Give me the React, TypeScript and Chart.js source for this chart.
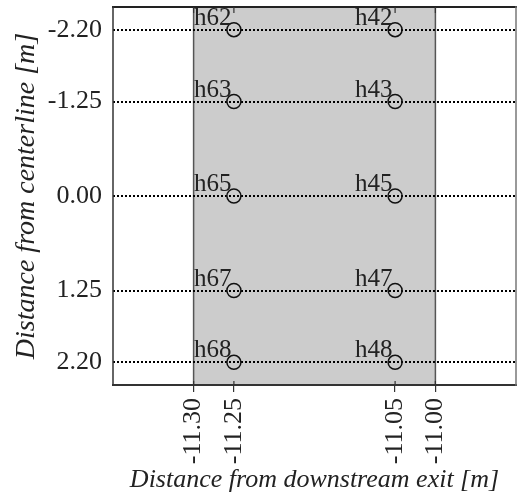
import React, { useEffect, useRef } from 'react';
import { Chart, registerables } from 'chart.js';

Chart.register(...registerables);

// ---- data ----
const columnX = [-11.25, -11.05];
const rowY = [-2.2, -1.25, 0.0, 1.25, 2.2];
const labelsNearCol = ['h62', 'h63', 'h65', 'h67', 'h68'];
const labelsFarCol = ['h42', 'h43', 'h45', 'h47', 'h48'];
const xTickValues = [-11.3, -11.25, -11.05, -11.0];
const yTickValues = [-2.2, -1.25, 0.0, 1.25, 2.2];
const regionX = [-11.3, -11.0];
const xRange = [-11.4, -10.9];
const yRange = [-2.5, 2.5];
const xTitle = 'Distance from downstream exit [m]';
const yTitle = 'Distance from centerline [m]';

const FONT = "'Liberation Serif', 'Times New Roman', serif";
const TEXT = '#222222';

const regionPlugin = {
  id: 'regionBox',
  beforeDraw(chart: any) {
    const { ctx, chartArea, scales } = chart;
    const x = scales.x;
    const x0 = x.getPixelForValue(regionX[0]);
    const x1 = x.getPixelForValue(regionX[1]);
    ctx.save();
    ctx.fillStyle = '#cccccc';
    ctx.fillRect(x0, chartArea.top, x1 - x0, chartArea.bottom - chartArea.top);
    ctx.strokeStyle = '#555555';
    ctx.lineWidth = 1.5;
    ctx.beginPath();
    ctx.moveTo(x0, chartArea.top);
    ctx.lineTo(x0, chartArea.bottom);
    ctx.moveTo(x1, chartArea.top);
    ctx.lineTo(x1, chartArea.bottom);
    ctx.stroke();
    ctx.restore();
  },
};

const tagPlugin = {
  id: 'pointTags',
  afterDatasetsDraw(chart: any) {
    const { ctx } = chart;
    ctx.save();
    ctx.font = `25px ${FONT}`;
    ctx.fillStyle = TEXT;
    ctx.textAlign = 'left';
    ctx.textBaseline = 'alphabetic';
    chart.data.datasets.forEach((ds: any, di: number) => {
      const meta = chart.getDatasetMeta(di);
      meta.data.forEach((el: any, i: number) => {
        ctx.fillText(ds.tags[i], el.x - 40, el.y - 5);
      });
    });
    ctx.restore();
  },
};

const framePlugin = {
  id: 'frame',
  afterDraw(chart: any) {
    const { ctx, chartArea, scales } = chart;
    const { left, right, top, bottom } = chartArea;
    ctx.save();
    ctx.lineCap = 'square';
    ctx.strokeStyle = '#222222';
    ctx.lineWidth = 2;
    ctx.beginPath();
    ctx.moveTo(left, top);
    ctx.lineTo(right, top);
    ctx.stroke();
    ctx.strokeStyle = '#333333';
    ctx.lineWidth = 1.5;
    ctx.beginPath();
    ctx.moveTo(left, top);
    ctx.lineTo(left, bottom);
    ctx.stroke();
    ctx.lineWidth = 2;
    ctx.beginPath();
    ctx.moveTo(left, bottom);
    ctx.lineTo(right, bottom);
    ctx.stroke();
    ctx.strokeStyle = '#777777';
    ctx.lineWidth = 1.5;
    ctx.beginPath();
    ctx.moveTo(right, top);
    ctx.lineTo(right, bottom);
    ctx.stroke();
    // inward tick marks
    ctx.strokeStyle = '#333333';
    ctx.lineWidth = 1.2;
    ctx.lineCap = 'butt';
    xTickValues.forEach((v) => {
      const px = scales.x.getPixelForValue(v);
      ctx.beginPath();
      ctx.moveTo(px, top);
      ctx.lineTo(px, top + 6);
      ctx.moveTo(px, bottom);
      ctx.lineTo(px, bottom - 4);
      ctx.stroke();
    });
    ctx.restore();
  },
};

export default function App() {
  const ref = useRef<HTMLCanvasElement | null>(null);

  useEffect(() => {
    if (!ref.current) return;
    const mk = (x: number, tags: string[]) => ({
      data: rowY.map((y) => ({ x, y })),
      tags,
      showLine: false,
      pointStyle: 'circle',
      pointRadius: 7,
      pointHoverRadius: 7,
      pointBorderWidth: 1.5,
      borderColor: '#111111',
      backgroundColor: 'rgba(0,0,0,0)',
      pointBackgroundColor: 'rgba(0,0,0,0)',
    });
    const chart = new Chart(ref.current, {
      type: 'scatter',
      data: {
        datasets: [mk(columnX[0], labelsNearCol), mk(columnX[1], labelsFarCol)] as any,
      },
      options: {
        animation: false,
        responsive: false,
        devicePixelRatio: 1,
        layout: { autoPadding: false, padding: { top: 7, right: 3, left: 0, bottom: 0 } },
        plugins: {
          legend: { display: false },
          tooltip: { enabled: false },
        },
        scales: {
          x: {
            type: 'linear',
            min: xRange[0],
            max: xRange[1],
            afterFit: (s: any) => {
              s.height = 114;
              s.paddingLeft = 0;
              s.paddingRight = 0;
            },
            afterBuildTicks: (s: any) => {
              s.ticks = xTickValues.map((v) => ({ value: v }));
            },
            grid: {
              display: true,
              drawOnChartArea: false,
              drawTicks: true,
              tickLength: 7,
              color: '#333333',
              lineWidth: 1.2,
            },
            border: { display: false },
            ticks: {
              autoSkip: false,
              minRotation: 90,
              maxRotation: 90,
              padding: 6,
              color: TEXT,
              font: { family: FONT, size: 26 },
              callback: (v: any) => Number(v).toFixed(2),
            },
            title: {
              display: true,
              text: xTitle,
              color: TEXT,
              font: { family: FONT, size: 26, style: 'italic' },
              padding: { top: 0, bottom: 3 },
            },
          },
          y: {
            type: 'linear',
            reverse: true,
            min: yRange[0],
            max: yRange[1],
            afterFit: (s: any) => {
              s.width = 113;
              s.paddingTop = 0;
              s.paddingBottom = 0;
            },
            afterBuildTicks: (s: any) => {
              s.ticks = yTickValues.map((v) => ({ value: v }));
            },
            grid: {
              display: true,
              drawOnChartArea: true,
              drawTicks: false,
              tickLength: 0,
              color: '#000000',
              lineWidth: 2,
            },
            border: { display: false, dash: [2, 2] },
            ticks: {
              autoSkip: false,
              padding: 11,
              color: TEXT,
              font: { family: FONT, size: 26 },
              callback: (v: any) => Number(v).toFixed(2),
            },
            title: {
              display: true,
              text: yTitle,
              color: TEXT,
              font: { family: FONT, size: 28, style: 'italic' },
              padding: { top: 10, bottom: 0 },
            },
          },
        },
      },
      plugins: [regionPlugin, tagPlugin, framePlugin],
    });
    return () => chart.destroy();
  }, []);

  return (
    <div style={{ position: 'absolute', left: 0, top: 0, width: 519, height: 499, background: '#ffffff' }}>
      <canvas ref={ref} width={519} height={499} style={{ display: 'block' }} />
    </div>
  );
}
